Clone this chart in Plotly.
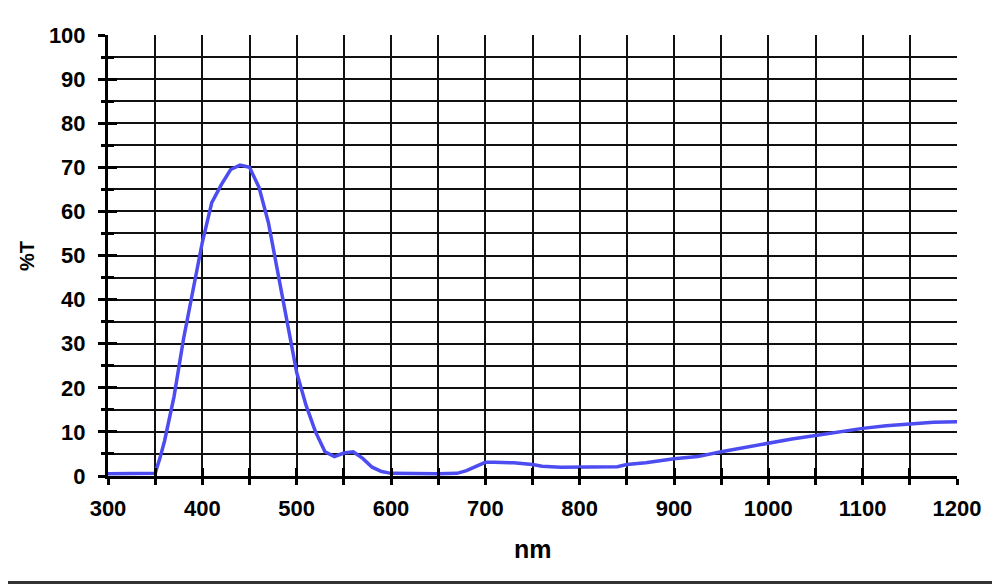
import plotly.graph_objects as go

wavelength_nm = [300, 310, 320, 330, 340, 350, 355, 360, 370, 380, 390, 400, 410, 420, 430,
                 440, 450, 460, 470, 480, 490, 500, 510, 520, 530, 540, 550, 560, 570, 580,
                 590, 600, 650, 670, 680, 690, 700, 710, 730, 750, 760, 780, 800, 840, 850,
                 870, 900, 925, 950, 975, 1000, 1025, 1050, 1075, 1100, 1125, 1150, 1175, 1200]
transmission_pct = [0.5, 0.5, 0.5, 0.5, 0.5, 0.6, 4.0, 8.0, 18.0, 31.0, 42.0, 53.0, 62.0, 66.0, 69.5,
                    70.5, 70.0, 65.5, 57.5, 46.0, 34.5, 23.5, 16.0, 10.0, 5.5, 4.4, 5.2, 5.5, 4.0, 2.0,
                    1.0, 0.6, 0.5, 0.6, 1.2, 2.2, 3.1, 3.1, 3.0, 2.6, 2.2, 2.0, 2.0, 2.1, 2.6,
                    3.0, 3.9, 4.4, 5.5, 6.5, 7.5, 8.4, 9.2, 10.1, 10.8, 11.4, 11.8, 12.2, 12.3]

x_range = [300, 1200]
y_range = [0, 100]
x_title = "nm"
y_title = "%T"

font_family = "Liberation Sans, Arial, sans-serif"
tickfont = dict(family=font_family, size=22, color="#000", weight="bold")

fig = go.Figure()
fig.add_trace(go.Scatter(x=wavelength_nm, y=transmission_pct, mode="lines",
                         line=dict(color="rgb(76,76,240)", width=3.5),
                         hoverinfo="skip", showlegend=False))
fig.add_trace(go.Scatter(x=[], y=[], xaxis="x2", yaxis="y2", showlegend=False, hoverinfo="skip"))

fig.update_layout(
    width=992, height=576,
    margin=dict(l=100, r=43, t=27, b=108),
    paper_bgcolor="white", plot_bgcolor="white",
    xaxis=dict(range=x_range, dtick=100, tick0=300, showgrid=True, gridcolor="#111", gridwidth=2,
               showline=True, linecolor="#000", linewidth=3, zeroline=False,
               ticks="outside", ticklen=6, tickwidth=3, tickcolor="#000",
               tickfont=tickfont, ticklabelstandoff=5,
               minor=dict(dtick=50, ticks="outside", ticklen=6, tickwidth=3, tickcolor="#000",
                          showgrid=True, gridcolor="#111", gridwidth=2)),
    yaxis=dict(range=y_range, dtick=10, tick0=0, showgrid=True, gridcolor="#111", gridwidth=2,
               showline=True, linecolor="#000", linewidth=3, zeroline=False,
               ticks="outside", ticklen=7, tickwidth=3, tickcolor="#000",
               tickfont=tickfont, ticklabelstandoff=8,
               minor=dict(dtick=5, ticks="outside", ticklen=4, tickwidth=3, tickcolor="#000",
                          showgrid=True, gridcolor="#111", gridwidth=2)),
    xaxis2=dict(range=x_range, overlaying="x", side="bottom", dtick=50, tick0=300,
                showgrid=False, zeroline=False, showline=False, showticklabels=False,
                ticks="inside", ticklen=8, tickwidth=3, tickcolor="#000"),
    yaxis2=dict(range=y_range, overlaying="y", side="left", dtick=10, tick0=0,
                showgrid=False, zeroline=False, showline=False, showticklabels=False,
                ticks="inside", ticklen=9, tickwidth=3, tickcolor="#000",
                minor=dict(dtick=5, ticks="inside", ticklen=6, tickwidth=3, tickcolor="#000")),
    annotations=[
        dict(text=x_title, xref="paper", yref="paper", x=0.5, y=-0.165, xanchor="center", yanchor="middle",
             showarrow=False, font=dict(family=font_family, size=25, color="#000", weight="bold")),
        dict(text=y_title, xref="paper", yref="paper", x=-0.0954, y=0.499, xanchor="center", yanchor="middle",
             textangle=-90, showarrow=False,
             font=dict(family=font_family, size=20, color="#000", weight="bold")),
    ],
    shapes=[dict(type="line", xref="paper", yref="paper", x0=-0.13, x1=1.06, y0=-0.2415, y1=-0.2415,
                 line=dict(color="#333", width=3))],
)

fig.write_html("out.html")
